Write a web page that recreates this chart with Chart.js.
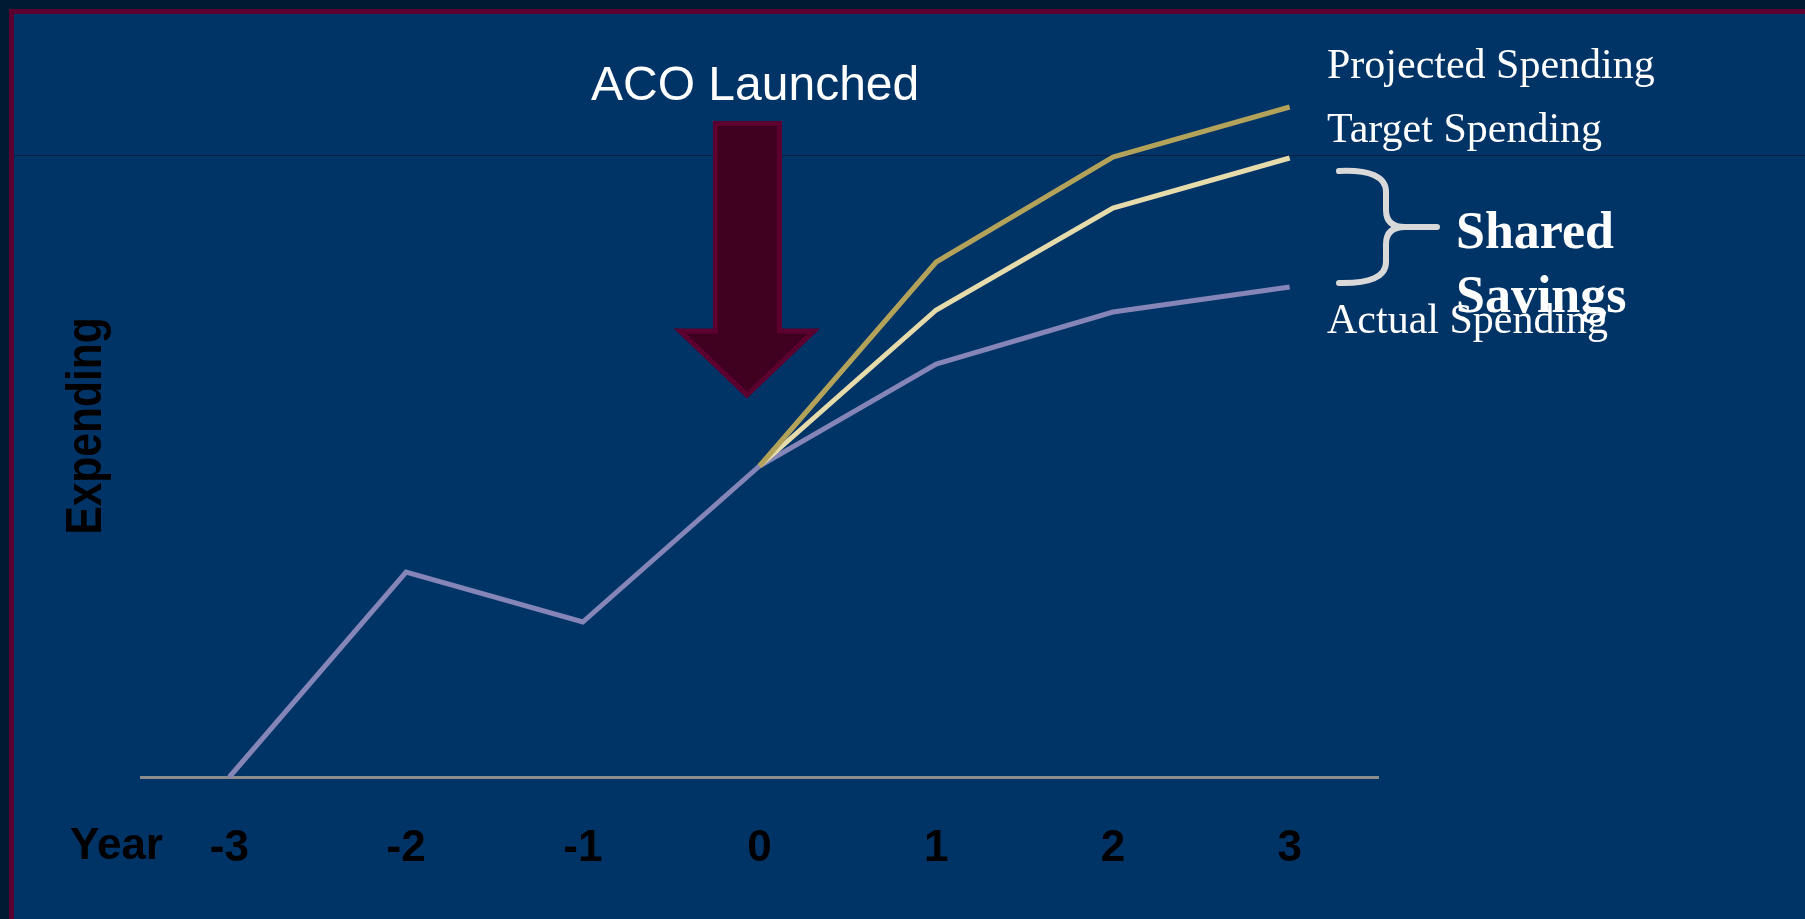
<!DOCTYPE html>
<html>
<head>
<meta charset="utf-8">
<script src="https://cdn.jsdelivr.net/npm/chart.js@4.4.0/dist/chart.umd.min.js"></script>
<style>
  html, body { margin: 0; padding: 0; background: #001a33; }
  canvas { display: block; }
</style>
</head>
<body>
<canvas id="spending" width="1805" height="919"></canvas>
<script>
const years = ['-3', '-2', '-1', '0', '1', '2', '3'];
const actualSpending = [0, 20.5, 15.5, 31.1, 41.3, 46.5, 49.0];
const targetSpending = [null, null, null, 31.1, 46.7, 56.9, 61.9];
const projectedSpending = [null, null, null, 31.1, 51.5, 62.0, 67.0];

const sans = '"Liberation Sans", Arial, sans-serif';
const serif = '"Liberation Serif", "Times New Roman", serif';

// background, frame and all the slide annotations
const decor = {
    id: 'decor',
    beforeDraw(chart) {
        const c = chart.ctx, w = chart.width, h = chart.height;
        c.save();
        c.fillStyle = '#001a33';
        c.fillRect(0, 0, w, h);
        c.fillStyle = '#5c0030';
        c.fillRect(9, 9, w - 9, h - 9);
        c.fillStyle = '#003366';
        c.fillRect(14, 14, w - 14, h - 14);
        c.fillStyle = '#0a1f3f';
        c.fillRect(14, 155, w - 14, 1);
        c.restore();
    },
    afterDraw(chart) {
        const c = chart.ctx;
        c.save();

        // Year label left of the ticks
        c.fillStyle = '#000';
        c.font = 'bold 44px ' + sans;
        c.textAlign = 'left';
        c.textBaseline = 'middle';
        c.fillText('Year', 70, 847);

        // vertical axis title
        c.save();
        c.translate(87, 426);
        c.rotate(-Math.PI / 2);
        c.scale(0.85, 1);
        c.font = 'bold 50px ' + sans;
        c.textAlign = 'center';
        c.textBaseline = 'middle';
        c.fillText('Expending', 0, 0);
        c.restore();

        // ACO Launched + arrow
        c.fillStyle = '#fff';
        c.font = '48px ' + sans;
        c.textAlign = 'left';
        c.textBaseline = 'alphabetic';
        c.fillText('ACO Launched', 591, 100);

        c.beginPath();
        c.moveTo(715.5, 123.5);
        c.lineTo(779.5, 123.5);
        c.lineTo(779.5, 331);
        c.lineTo(814, 331);
        c.lineTo(747, 395);
        c.lineTo(680, 331);
        c.lineTo(715.5, 331);
        c.closePath();
        c.fillStyle = '#400020';
        c.fill();
        c.lineWidth = 5;
        c.strokeStyle = '#5c0030';
        c.lineJoin = 'miter';
        c.stroke();

        // series labels
        c.fillStyle = '#fff';
        c.font = '42px ' + serif;
        c.fillText('Projected Spending', 1327, 78);
        c.fillText('Target Spending', 1327, 142);
        c.fillText('Actual Spending', 1327, 333);

        // brace
        c.beginPath();
        c.moveTo(1339, 171);
        c.quadraticCurveTo(1386, 169, 1386, 192);
        c.lineTo(1386, 210);
        c.quadraticCurveTo(1386, 227, 1405, 227);
        c.lineTo(1437, 227);
        c.moveTo(1405, 227);
        c.quadraticCurveTo(1386, 227, 1386, 244);
        c.lineTo(1386, 262);
        c.quadraticCurveTo(1386, 284, 1339, 283);
        c.lineWidth = 6;
        c.strokeStyle = '#d9d9d9';
        c.lineCap = 'round';
        c.stroke();

        c.fillStyle = '#fff';
        c.font = 'bold 52px ' + serif;
        c.fillText('Shared', 1456, 248);
        c.fillText('Savings', 1456, 312);

        c.restore();
    }
};

new Chart(document.getElementById('spending'), {
    type: 'line',
    data: {
        labels: years,
        datasets: [
            {
                label: 'Projected Spending',
                data: projectedSpending,
                borderColor: '#b3a25a',
                borderWidth: 5,
                pointRadius: 0,
                tension: 0,
                clip: false
            },
            {
                label: 'Target Spending',
                data: targetSpending,
                borderColor: '#e6dbab',
                borderWidth: 5,
                pointRadius: 0,
                tension: 0,
                clip: false
            },
            {
                label: 'Actual Spending',
                data: actualSpending,
                borderColor: '#8585b8',
                borderWidth: 5,
                pointRadius: 0,
                tension: 0,
                clip: false
            }
        ]
    },
    options: {
        responsive: false,
        animation: false,
        layout: {
            padding: { left: 141, right: 427, top: 77, bottom: 45 }
        },
        plugins: {
            legend: { display: false },
            tooltip: { enabled: false }
        },
        scales: {
            x: {
                offset: true,
                grid: { display: false, drawTicks: false },
                border: { display: true, color: '#8c8c8c', width: 3 },
                ticks: {
                    color: '#000',
                    padding: 45,
                    font: { family: sans, size: 44, weight: 'bold' }
                },
                afterFit(axis) { axis.height = 97; }
            },
            y: {
                display: false,
                min: 0,
                max: 70
            }
        }
    },
    plugins: [decor]
});
</script>
</body>
</html>
